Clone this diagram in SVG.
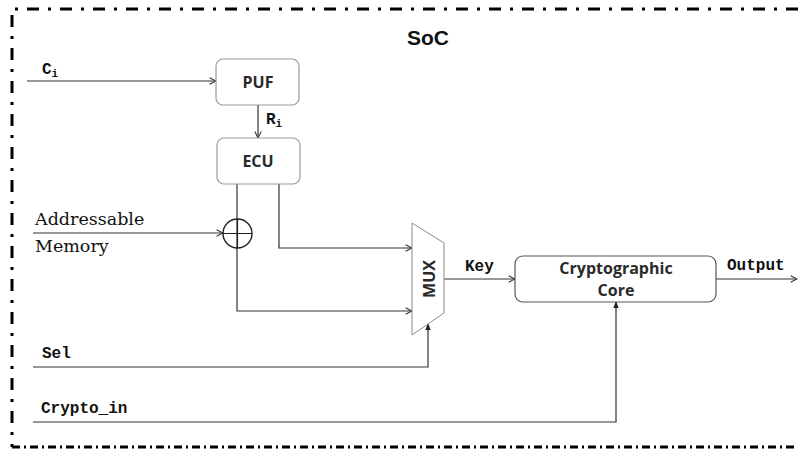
<svg xmlns="http://www.w3.org/2000/svg" width="798" height="456" viewBox="0 0 798 456">
<style>
.box{fill:#fff;stroke:#9a9a9a;stroke-width:1.2}
.core{fill:#fff;stroke:#555;stroke-width:1.2}
.lbl{font-family:"Open Sans","Noto Sans",sans-serif;font-weight:bold;font-size:16px;fill:#2a2a2a;text-anchor:middle}
.mono{font-family:"Liberation Mono","Courier New",monospace;font-weight:bold;font-size:16px;fill:#111}
.sub{font-size:11px}
.ser{font-family:"DejaVu Serif","Liberation Serif",serif;font-size:17.5px;fill:#111}
.wire{fill:none;stroke:#333;stroke-width:1.2}
.border{fill:none;stroke:#000;stroke-width:3}
</style>
<defs>
<marker id="open" viewBox="0 0 10 10" refX="9" refY="5" markerWidth="8" markerHeight="8" markerUnits="userSpaceOnUse" orient="auto">
<path d="M1,1 L9,5 L1,9" fill="none" stroke="#333" stroke-width="1.3"/>
</marker>
<marker id="fill" viewBox="0 0 10 10" refX="9" refY="5" markerWidth="7" markerHeight="7" markerUnits="userSpaceOnUse" orient="auto">
<path d="M0,1 L10,5 L0,9 Z" fill="#222"/>
</marker>
</defs>

<g id="border">
<path class="border" d="M798,9 H12 V447" stroke-dasharray="12 9 3 9"/>
<path class="border" d="M12,447 H798" stroke-width="2.6" stroke-dasharray="8 4 2 4"/>
<text x="428" y="45" font-family="Liberation Sans,Arial,sans-serif" font-weight="bold" font-size="21" text-anchor="middle" fill="#111">SoC</text>
</g>

<g id="connectors">
<path class="wire" d="M27,81 H216" marker-end="url(#open)"/>
<path class="wire" d="M258,105 V138" marker-end="url(#open)"/>
<path class="wire" d="M33,233 H223" marker-end="url(#open)"/>
<path class="wire" d="M237,184 V311 H412" marker-end="url(#open)"/>
<path class="wire" d="M279,184 V248 H412" marker-end="url(#open)"/>
<path class="wire" d="M444,279 H515" marker-end="url(#open)"/>
<path class="wire" d="M716,279 H797" marker-end="url(#open)"/>
<path class="wire" d="M33,367 H428 V324" marker-end="url(#fill)"/>
<path class="wire" d="M33,422 H616 V302" marker-end="url(#fill)"/>
</g>

<g id="labels">
<text class="mono" x="42" y="74" font-size="17">C<tspan class="sub" dy="3">i</tspan></text>
<text class="mono" x="266" y="124" font-size="15">R<tspan class="sub" dy="3">i</tspan></text>
<text class="ser" x="35" y="225">Addressable</text>
<text class="ser" x="35" y="252">Memory</text>
<text class="mono" x="42" y="358">Sel</text>
<text class="mono" x="41" y="413">Crypto_in</text>
<text class="mono" x="465" y="271">Key</text>
<text class="mono" x="727" y="270">Output</text>
</g>

<g id="puf">
<rect class="box" x="216" y="59" width="83" height="46" rx="7"/>
<text class="lbl" x="258" y="88">PUF</text>
</g>

<g id="ecu">
<rect class="box" x="217" y="138" width="83" height="46" rx="7"/>
<text class="lbl" x="258" y="167">ECU</text>
</g>

<g id="xor">
<circle cx="237.5" cy="233.5" r="14.5" fill="none" stroke="#222" stroke-width="1.4"/>
<path d="M223,233.5 H252 M237.5,219 V248" stroke="#222" stroke-width="1.2"/>
</g>

<g id="mux">
<polygon points="412,223 444,243 444,313 412,335" fill="#fff" stroke="#8a8a8a" stroke-width="1"/>
<text class="lbl" x="0" y="0" transform="translate(435,279) rotate(-90)">MUX</text>
</g>

<g id="core">
<rect class="core" x="515" y="256" width="201" height="46" rx="8"/>
<text class="lbl" x="616" y="274">Cryptographic</text>
<text class="lbl" x="616" y="296">Core</text>
</g>
</svg>
